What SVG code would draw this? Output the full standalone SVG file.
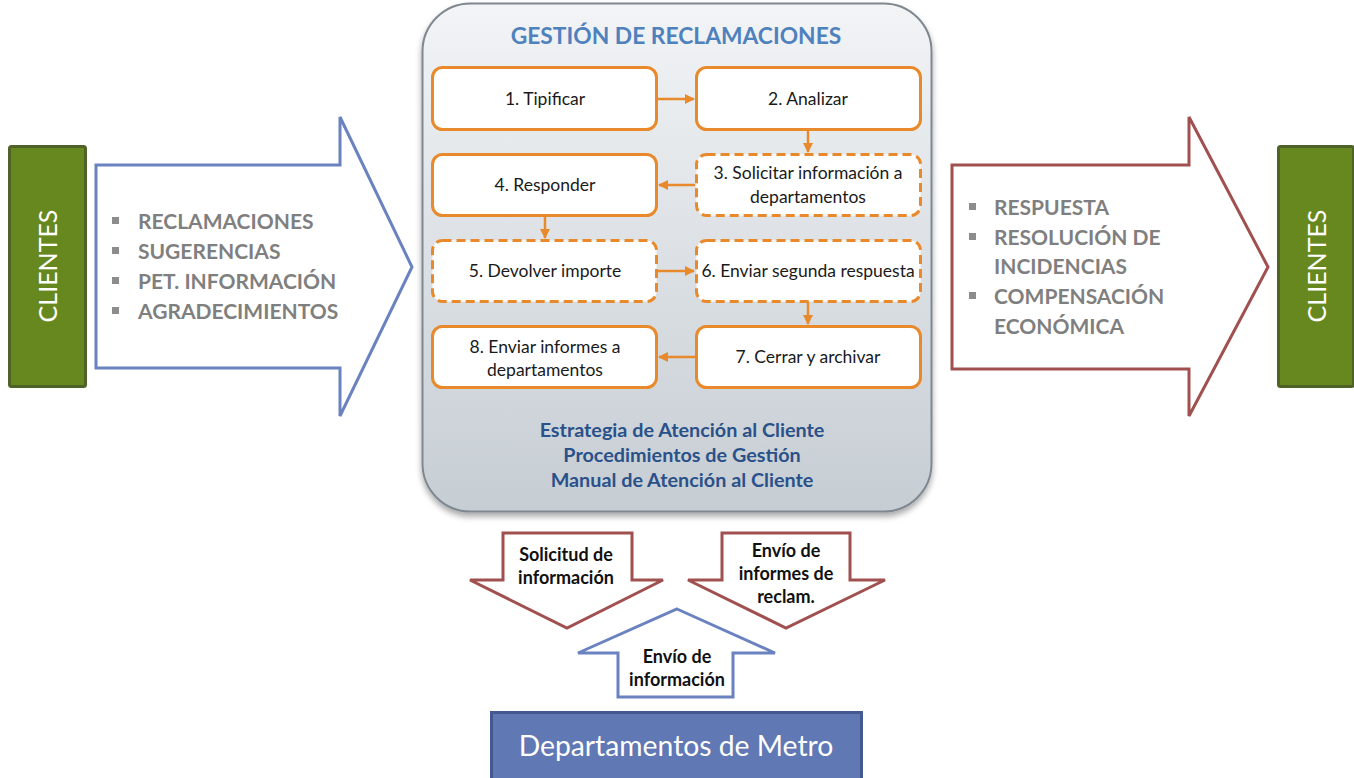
<svg xmlns="http://www.w3.org/2000/svg" width="1354" height="778" viewBox="0 0 1354 778">
<defs>
<linearGradient id="panelGrad" x1="0" y1="0" x2="0" y2="1">
<stop offset="0" stop-color="#f2f4f6"/>
<stop offset="1" stop-color="#c6cdd3"/>
</linearGradient>
<filter id="shadow" x="-10%" y="-10%" width="120%" height="120%">
<feGaussianBlur in="SourceAlpha" stdDeviation="3"/>
<feOffset dx="0" dy="4" result="b"/>
<feComponentTransfer><feFuncA type="linear" slope="0.35"/></feComponentTransfer>
<feMerge><feMergeNode/><feMergeNode in="SourceGraphic"/></feMerge>
</filter>
<marker id="ah" viewBox="0 0 10 10" refX="9" refY="5" markerWidth="4" markerHeight="4" orient="auto" markerUnits="strokeWidth">
<path d="M0,0 L10,5 L0,10 z" fill="#e8892b"/>
</marker>
</defs>
<style>
.green{fill:#66881e;stroke:#4f6228;stroke-width:3}
.clientes{font-family:Lato,"Open Sans",sans-serif;font-size:25px;fill:#ffffff}
.bul{font-family:Lato,"Open Sans",sans-serif;font-size:21px;font-weight:bold;fill:#7f7f7f}
.sq{fill:#8c8c8c}
.box{fill:#ffffff;stroke:#e8892b;stroke-width:3}
.dash{stroke-dasharray:9 5}
.bt{font-family:Lato,"Open Sans",sans-serif;font-size:17.5px;fill:#1a1a1a;text-anchor:middle}
.conn{stroke:#e8892b;stroke-width:2.5;fill:none}
.blue-t{font-family:Lato,"Open Sans",sans-serif;font-size:19.8px;font-weight:bold;fill:#2a5189;text-anchor:middle}
.small-arrow-t{font-family:Lato,"Open Sans",sans-serif;font-size:18px;font-weight:bold;fill:#111111;text-anchor:middle}
</style>

<g id="clientes-left">
<rect class="green" x="9.5" y="146.5" width="76" height="240" rx="2"/>
<text class="clientes" transform="translate(57,266) rotate(-90)" text-anchor="middle">CLIENTES</text>
</g>

<g id="entrada-arrow">
<path d="M96,165 L340,165 L340,117 L412,267 L340,416 L340,368 L96,368 Z" fill="#ffffff" stroke="#6a82c0" stroke-width="3" stroke-linejoin="miter"/>
<rect class="sq" x="112" y="217" width="7" height="7"/>
<rect class="sq" x="112" y="247" width="7" height="7"/>
<rect class="sq" x="112" y="277" width="7" height="7"/>
<rect class="sq" x="112" y="307" width="7" height="7"/>
<text class="bul" x="138" y="229">RECLAMACIONES</text>
<text class="bul" x="138" y="259">SUGERENCIAS</text>
<text class="bul" x="138" y="289">PET. INFORMACIÓN</text>
<text class="bul" x="138" y="319">AGRADECIMIENTOS</text>
</g>

<g id="gestion-panel">
<rect x="422.5" y="3.5" width="509" height="508" rx="48" fill="url(#panelGrad)" stroke="#7f8890" stroke-width="2" filter="url(#shadow)"/>
<text x="676" y="44" font-family="Lato,'Open Sans',sans-serif" font-size="22.8" font-weight="bold" fill="#4f81bd" text-anchor="middle">GESTIÓN DE RECLAMACIONES</text>
<text class="blue-t" x="682" y="437">Estrategia de Atención al Cliente</text>
<text class="blue-t" x="682" y="462">Procedimientos de Gestión</text>
<text class="blue-t" x="682" y="487">Manual de Atención al Cliente</text>
</g>

<g id="step1"><rect class="box" x="432.5" y="67.5" width="224" height="62" rx="10"/><text class="bt" x="545" y="105">1. Tipificar</text></g>
<g id="step2"><rect class="box" x="696.5" y="67.5" width="224" height="62" rx="10"/><text class="bt" x="808" y="105">2. Analizar</text></g>
<g id="step3"><rect class="box dash" x="696.5" y="154.5" width="224" height="61" rx="10"/><text class="bt" x="808" y="179">3. Solicitar información a</text><text class="bt" x="808" y="203">departamentos</text></g>
<g id="step4"><rect class="box" x="432.5" y="154.5" width="224" height="61" rx="10"/><text class="bt" x="545" y="191">4. Responder</text></g>
<g id="step5"><rect class="box dash" x="432.5" y="240.5" width="224" height="61" rx="10"/><text class="bt" x="545" y="277">5. Devolver importe</text></g>
<g id="step6"><rect class="box dash" x="696.5" y="240.5" width="224" height="61" rx="10"/><text class="bt" x="808" y="277">6. Enviar segunda respuesta</text></g>
<g id="step7"><rect class="box" x="696.5" y="326.5" width="224" height="61" rx="10"/><text class="bt" x="808" y="363">7. Cerrar y archivar</text></g>
<g id="step8"><rect class="box" x="432.5" y="326.5" width="224" height="61" rx="10"/><text class="bt" x="545" y="353">8. Enviar informes a</text><text class="bt" x="545" y="376">departamentos</text></g>

<g id="connectors">
<line class="conn" x1="658" y1="99" x2="694" y2="99" marker-end="url(#ah)"/>
<line class="conn" x1="808" y1="130" x2="808" y2="152" marker-end="url(#ah)"/>
<line class="conn" x1="695" y1="185" x2="659" y2="185" marker-end="url(#ah)"/>
<line class="conn" x1="545" y1="216" x2="545" y2="238" marker-end="url(#ah)"/>
<line class="conn" x1="658" y1="271" x2="694" y2="271" marker-end="url(#ah)"/>
<line class="conn" x1="808" y1="302" x2="808" y2="324" marker-end="url(#ah)"/>
<line class="conn" x1="695" y1="357" x2="659" y2="357" marker-end="url(#ah)"/>
</g>

<g id="salida-arrow">
<path d="M952,165 L1189,165 L1189,117 L1268,267 L1189,416 L1189,369 L952,369 Z" fill="#ffffff" stroke="#a0504f" stroke-width="3"/>
<rect class="sq" x="969" y="203" width="7" height="7"/>
<rect class="sq" x="969" y="233" width="7" height="7"/>
<rect class="sq" x="969" y="292" width="7" height="7"/>
<text class="bul" x="994" y="215">RESPUESTA</text>
<text class="bul" x="994" y="245">RESOLUCIÓN DE</text>
<text class="bul" x="994" y="274">INCIDENCIAS</text>
<text class="bul" x="994" y="304">COMPENSACIÓN</text>
<text class="bul" x="994" y="334">ECONÓMICA</text>
</g>

<g id="clientes-right">
<rect class="green" x="1278.5" y="146.5" width="75" height="240" rx="2"/>
<text class="clientes" transform="translate(1326,266) rotate(-90)" text-anchor="middle">CLIENTES</text>
</g>

<g id="solicitud-arrow">
<path d="M503,533 L632,533 L632,580 L663,580 L567,628 L470,580 L503,580 Z" fill="#ffffff" stroke="#a0504f" stroke-width="3"/>
<text class="small-arrow-t" x="566" y="561">Solicitud de</text>
<text class="small-arrow-t" x="566" y="584">información</text>
</g>

<g id="informes-arrow">
<path d="M722,533 L850,533 L850,580 L885,580 L786,628 L688,580 L722,580 Z" fill="#ffffff" stroke="#a0504f" stroke-width="3"/>
<text class="small-arrow-t" x="786" y="557">Envío de</text>
<text class="small-arrow-t" x="786" y="580">informes de</text>
<text class="small-arrow-t" x="786" y="603">reclam.</text>
</g>

<g id="envio-arrow">
<path d="M677,609 L775,653 L733,653 L733,697 L618,697 L618,653 L578,653 Z" fill="#ffffff" stroke="#6a82c0" stroke-width="3"/>
<text class="small-arrow-t" x="677" y="663">Envío de</text>
<text class="small-arrow-t" x="677" y="686">información</text>
</g>

<g id="departamentos">
<rect x="491.5" y="712.5" width="370" height="70" fill="#6078b4" stroke="#44598f" stroke-width="3"/>
<text x="676" y="756" font-family="Lato,'Open Sans',sans-serif" font-size="28.3" fill="#ffffff" text-anchor="middle">Departamentos de Metro</text>
</g>
</svg>
